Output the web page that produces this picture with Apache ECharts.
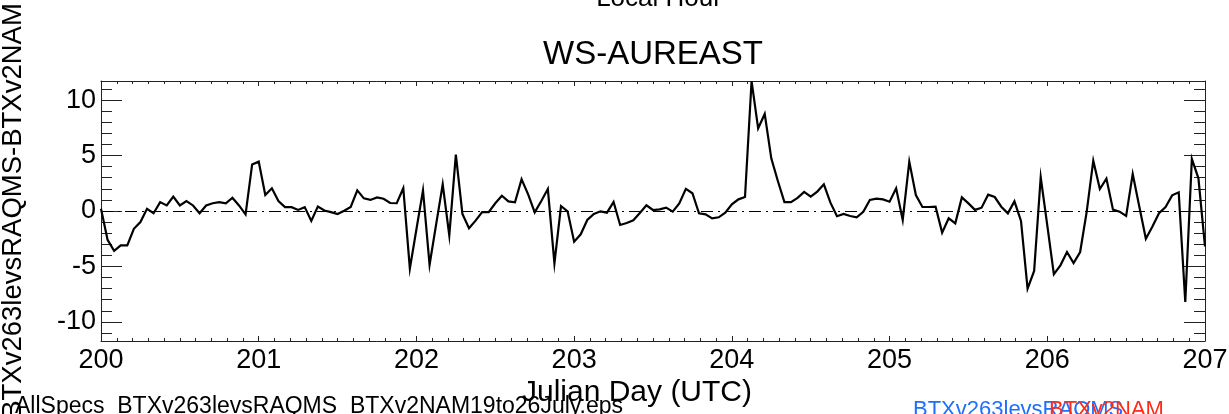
<!DOCTYPE html>
<html><head><meta charset="utf-8">
<script src="https://cdn.jsdelivr.net/npm/echarts@6/dist/echarts.min.js"></script>
<style>html,body{margin:0;padding:0;background:#fff;overflow:hidden}#c{width:1229px;height:414px}</style>
</head><body><div id="c"></div>
<script>
// ---- data ----
const startDay = 200;          // Julian day of first sample
const samplesPerDay = 24;      // hourly samples
const diffValues = [
  0.2, -2.6, -3.6, -3.1, -3.1, -1.6, -1.0, 0.2, -0.2, 0.8, 0.5, 1.3,
  0.5, 0.9, 0.5, -0.2, 0.5, 0.7, 0.8, 0.7, 1.2, 0.5, -0.3, 4.2,
  4.45, 1.45, 2.05, 0.9, 0.35, 0.35, 0.1, 0.35, -0.9, 0.4, 0.05, -0.1,
  -0.27, 0.03, 0.36, 1.86, 1.14, 1.0, 1.23, 1.1, 0.72, 0.7, 2.05, -5.2,
  -1.65, 1.86, -4.85, -1.2, 2.4, -2.2, 5.08, -0.27, -1.56, -0.87, -0.1, -0.1,
  0.7, 1.38, 0.87, 0.78, 2.86, 1.5, -0.12, 0.9, 1.98, -4.72, 0.45, -0.03,
  -2.77, -2.1, -0.81, -0.27, -0.03, -0.15, 0.81, -1.26, -1.08, -0.84, -0.18, 0.51,
  0.09, 0.15, 0.3, -0.06, 0.69, 2.0, 1.6, -0.21, -0.3, -0.66, -0.57, -0.15,
  0.6, 1.05, 1.26, 11.7, 7.45, 8.75, 4.75, 2.7, 0.8, 0.8, 1.18, 1.72,
  1.29, 1.75, 2.4, 0.75, -0.47, -0.27, -0.45, -0.57, -0.08, 1.0, 1.11, 1.05,
  0.84, 2.05, -0.81, 4.45, 1.44, 0.36, 0.36, 0.39, -1.95, -0.66, -1.11, 1.23,
  0.69, 0.1, 0.3, 1.47, 1.26, 0.39, -0.21, 0.87, -0.9, -7.0, -5.4, 3.04,
  -1.3, -5.7, -4.9, -3.7, -4.7, -3.7, -0.06, 4.54, 1.98, 2.92, 0.12, -0.06,
  -0.45, 3.34, 0.4, -2.5, -1.4, -0.2, 0.36, 1.41, 1.68, -8.2, 4.7, 2.95,
  -3.2
];
const xMin = 200, xMax = 207;
const yMin = -11.72, yMax = 11.72;
const yLabelStep = 5;
const titleText = 'WS-AUREAST';
const topText = 'Local Hour';
const xTitle = 'Julian Day (UTC)';
const yTitle = 'BTXv263levsRAQMS-BTXv2NAM';
const fileText = 'AllSpecs_BTXv263levsRAQMS_BTXv2NAM19to26July.eps';
const legendNames = ['BTXv263levsRAQMS', 'BTXv2NAM'];

// ---- chart ----
const FONT = '"Liberation Sans", Arial, Helvetica, sans-serif';
const seriesData = diffValues.map((v, i) => [startDay + i / samplesPerDay, v]);
const axisCol = '#222';

function xAx(pos, showLabel) {
  return {
    type: 'value', position: pos, min: xMin, max: xMax, interval: 1,
    axisLine: { show: true, onZero: false, lineStyle: { color: axisCol, width: 1 } },
    axisTick: { show: true, inside: true, length: 5, lineStyle: { color: axisCol, width: 1 } },
    minorTick: { show: true, splitNumber: 10, length: 3, lineStyle: { color: axisCol, width: 1 } },
    splitLine: { show: false }, minorSplitLine: { show: false },
    axisLabel: { show: showLabel, color: '#000', fontSize: 27, fontFamily: FONT, margin: 6 }
  };
}
function yAx(pos, showLabel) {
  return {
    type: 'value', position: pos, min: yMin, max: yMax,
    axisLine: { show: true, onZero: false, lineStyle: { color: axisCol, width: 1 } },
    axisTick: { show: true, inside: true, length: 21, lineStyle: { color: axisCol, width: 1 } },
    minorTick: { show: true, splitNumber: 5, length: 11, lineStyle: { color: axisCol, width: 1 } },
    splitLine: { show: false }, minorSplitLine: { show: false },
    axisLabel: {
      show: showLabel, color: '#000', fontSize: 27, fontFamily: FONT, margin: 5,
      formatter: v => (Math.abs(v / yLabelStep - Math.round(v / yLabelStep)) < 1e-6 ? String(Math.round(v)) : '')
    }
  };
}

const chart = echarts.init(document.getElementById('c'), null, { renderer: 'canvas' });
chart.setOption({
  animation: false,
  backgroundColor: '#fff',
  grid: { left: 101, right: 24, top: 81, bottom: 73, containLabel: false, outerBoundsMode: 'none' },
  xAxis: [xAx('bottom', true), xAx('top', false)],
  yAxis: [yAx('left', true), yAx('right', false)],
  series: [{
    type: 'line', xAxisIndex: 0, yAxisIndex: 0, data: seriesData,
    showSymbol: false, symbol: 'none',
    lineStyle: { color: '#000', width: 2.2, join: 'miter' },
    markLine: {
      silent: true, symbol: ['none', 'none'], label: { show: false },
      lineStyle: { color: '#000', width: 1, type: [12, 5, 2, 5] },
      data: [{ yAxis: 0 }]
    }
  }],
  graphic: [
    { type: 'text', x: 659, y: -1, style: { text: topText, font: '26px ' + FONT, fill: '#000', align: 'center', verticalAlign: 'middle' } },
    { type: 'text', x: 653, y: 55, style: { text: titleText, font: '33px ' + FONT, fill: '#000', align: 'center', verticalAlign: 'middle' } },
    { type: 'text', x: 637, y: 393, style: { text: xTitle, font: '30px ' + FONT, fill: '#000', align: 'center', verticalAlign: 'middle' } },
    { type: 'text', x: 13, y: 211, rotation: Math.PI / 2, style: { text: yTitle, font: '27.5px ' + FONT, fill: '#000', align: 'center', verticalAlign: 'middle' } },
    { type: 'text', x: 15, y: 407, style: { text: fileText, font: '23px ' + FONT, fill: '#000', align: 'left', verticalAlign: 'middle' } },
    { type: 'text', x: 913, y: 410, style: { text: legendNames[0], font: '22px ' + FONT, fill: '#1f6fff', align: 'left', verticalAlign: 'middle' } },
    { type: 'text', x: 1049, y: 410, style: { text: legendNames[1], font: '22px ' + FONT, fill: '#ff2a1a', align: 'left', verticalAlign: 'middle' } }
  ]
});
</script>
</body></html>
